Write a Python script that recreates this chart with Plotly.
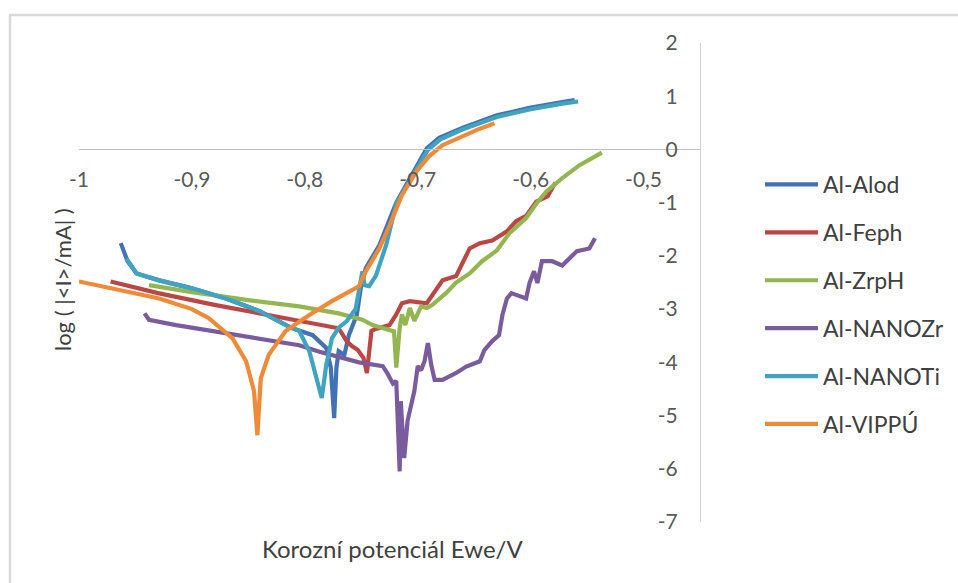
import plotly.graph_objects as go

series_names = ["Al-Alod", "Al-Feph", "Al-ZrpH", "Al-NANOZr", "Al-NANOTi", "Al-VIPPÚ"]
colors = ["#4372B4", "#BB4744", "#93B650", "#7A5C9E", "#40A3BF", "#EE8A38"]

alod_x = [-0.963, -0.957, -0.949, -0.929, -0.900, -0.870, -0.840, -0.817, -0.811, -0.793, -0.781,
          -0.777, -0.774, -0.772, -0.770, -0.765, -0.761, -0.754, -0.750, -0.746, -0.734, -0.719,
          -0.707, -0.699, -0.692, -0.681, -0.660, -0.630, -0.601, -0.572, -0.561]
alod_y = [-1.76, -2.10, -2.33, -2.46, -2.61, -2.80, -3.04, -3.30, -3.36, -3.49, -3.73,
          -4.10, -5.05, -4.10, -3.79, -3.86, -3.49, -3.11, -2.55, -2.23, -1.80, -1.00,
          -0.54, -0.23, 0.02, 0.22, 0.41, 0.64, 0.78, 0.89, 0.93]

feph_x = [-0.972, -0.930, -0.880, -0.830, -0.790, -0.770, -0.763, -0.758, -0.753, -0.748, -0.745,
          -0.741, -0.738, -0.725, -0.719, -0.714, -0.707, -0.692, -0.678, -0.666, -0.660, -0.654,
          -0.645, -0.634, -0.621, -0.613, -0.604, -0.595, -0.585, -0.578]
feph_y = [-2.48, -2.70, -2.92, -3.12, -3.27, -3.36, -3.60, -3.70, -3.77, -3.92, -4.20,
          -3.41, -3.38, -3.30, -3.10, -2.89, -2.85, -2.89, -2.46, -2.38, -2.12, -1.86,
          -1.76, -1.71, -1.54, -1.35, -1.25, -0.98, -0.88, -0.62]

zrph_x = [-0.938, -0.900, -0.850, -0.805, -0.770, -0.762, -0.749, -0.740, -0.725, -0.721, -0.719,
          -0.716, -0.714, -0.711, -0.707, -0.703, -0.697, -0.692, -0.687, -0.675, -0.666, -0.654,
          -0.643, -0.630, -0.619, -0.604, -0.595, -0.586, -0.572, -0.557, -0.537]
zrph_y = [-2.55, -2.68, -2.83, -2.95, -3.08, -3.12, -3.20, -3.30, -3.40, -3.42, -4.10,
          -3.36, -3.10, -3.30, -2.98, -3.22, -2.95, -2.98, -2.92, -2.70, -2.50, -2.33,
          -2.10, -1.90, -1.58, -1.29, -1.02, -0.79, -0.54, -0.30, -0.06]

nanozr_x = [-0.942, -0.938, -0.914, -0.870, -0.825, -0.805, -0.787, -0.767, -0.752, -0.731, -0.727,
            -0.722, -0.719, -0.716, -0.715, -0.712, -0.709, -0.703, -0.700, -0.697, -0.694, -0.691,
            -0.688, -0.685, -0.678, -0.666, -0.657, -0.645, -0.641, -0.634, -0.628, -0.625, -0.621,
            -0.617, -0.611, -0.604, -0.601, -0.597, -0.594, -0.590, -0.581, -0.572, -0.559, -0.548,
            -0.543]
nanozr_y = [-3.08, -3.20, -3.30, -3.45, -3.60, -3.68, -3.80, -3.92, -4.00, -4.07, -4.20,
            -4.40, -4.35, -6.05, -4.73, -5.80, -5.10, -4.54, -4.07, -4.15, -3.98, -3.64,
            -4.05, -4.33, -4.33, -4.20, -4.08, -3.98, -3.77, -3.60, -3.49, -3.11, -2.80,
            -2.70, -2.74, -2.80, -2.51, -2.29, -2.51, -2.10, -2.10, -2.18, -1.91, -1.86,
            -1.67]

nanoti_x = [-0.958, -0.949, -0.929, -0.900, -0.870, -0.840, -0.817, -0.805, -0.796, -0.790, -0.785,
            -0.781, -0.776, -0.770, -0.763, -0.755, -0.749, -0.747, -0.743, -0.737, -0.728, -0.719,
            -0.707, -0.699, -0.691, -0.680, -0.660, -0.630, -0.601, -0.572, -0.558]
nanoti_y = [-2.05, -2.33, -2.46, -2.61, -2.80, -3.04, -3.30, -3.41, -3.79, -4.24, -4.67,
            -4.05, -3.55, -3.35, -3.23, -3.00, -2.29, -2.55, -2.57, -2.37, -1.80, -1.02,
            -0.58, -0.27, -0.01, 0.19, 0.38, 0.61, 0.75, 0.86, 0.90]

vippu_x = [-1.000, -0.960, -0.929, -0.900, -0.885, -0.864, -0.852, -0.845, -0.842, -0.839, -0.832,
           -0.817, -0.796, -0.776, -0.758, -0.752, -0.746, -0.734, -0.725, -0.714, -0.701, -0.690,
           -0.678, -0.660, -0.645, -0.632]
vippu_y = [-2.48, -2.65, -2.80, -3.00, -3.17, -3.55, -3.98, -4.54, -5.37, -4.30, -3.86,
           -3.41, -3.11, -2.85, -2.65, -2.57, -2.29, -1.86, -1.43, -0.86, -0.41, -0.13,
           0.08, 0.26, 0.39, 0.49]

xs = [alod_x, feph_x, zrph_x, nanozr_x, nanoti_x, vippu_x]
ys = [alod_y, feph_y, zrph_y, nanozr_y, nanoti_y, vippu_y]

x_tickvals = [-1.0, -0.9, -0.8, -0.7, -0.6, -0.5]
x_ticktext = ["-1", "-0,9", "-0,8", "-0,7", "-0,6", "-0,5"]
y_tickvals = [2, 1, 0, -1, -2, -3, -4, -5, -6, -7]
y_ticktext = ["2", "1", "0", "-1", "-2", "-3", "-4", "-5", "-6", "-7"]

FONT = "Lato, Carlito, Calibri, sans-serif"

fig = go.Figure()
for name, c, x, y in zip(series_names, colors, xs, ys):
    fig.add_trace(go.Scatter(x=x, y=y, mode="lines", name=name, legendgroup=name,
                             line=dict(color=c, width=4.2, shape="linear")))

W, H = 958, 583
L, R, T, B = 79, 0, 43, 61
PLOT_RIGHT = 700
pw = W - L - R
ph = H - T - B
xdom_end = (PLOT_RIGHT - L) / pw

def px_x(p):
    return (p - L) / pw

def px_y(p):
    return (H - B - p) / ph

fig.update_layout(
    width=W, height=H,
    margin=dict(l=L, r=R, t=T, b=B, pad=0),
    paper_bgcolor="white", plot_bgcolor="white",
    font=dict(family=FONT, size=21, color="#595959"),
    showlegend=True,
    legend=dict(x=px_x(760), y=px_y(163), xanchor="left", yanchor="top",
                font=dict(family=FONT, size=23, color="#404040"),
                tracegroupgap=15, itemwidth=53, bgcolor="rgba(0,0,0,0)"),
    xaxis=dict(domain=[0, xdom_end], range=[-1.0, -0.45], tickvals=x_tickvals, ticktext=x_ticktext,
               showgrid=False, zeroline=False, showline=True, linecolor="#BFBFBF", linewidth=1.3,
               ticks="", anchor="free", position=7/9, ticklabelstandoff=11, automargin=False,
               tickfont=dict(family=FONT, size=21, color="#595959")),
    yaxis=dict(range=[-7, 2], tickvals=y_tickvals, ticktext=y_ticktext,
               side="left", anchor="free", position=xdom_end, ticklabelstandoff=18, automargin=False,
               showgrid=False, zeroline=False, showline=True, linecolor="#D0D0D0", linewidth=1.3,
               ticks="", tickfont=dict(family=FONT, size=21, color="#595959")),
    annotations=[
        dict(text="Korozní potenciál Ewe/V", xref="paper", yref="paper",
             x=px_x(393), y=px_y(548), showarrow=False, xanchor="center", yanchor="middle",
             font=dict(family=FONT, size=24, color="#404040")),
        dict(text="log ( |&lt;I&gt;/mA| )", xref="paper", yref="paper",
             x=px_x(62), y=px_y(280), showarrow=False, textangle=-90,
             xanchor="center", yanchor="middle",
             font=dict(family=FONT, size=22, color="#404040")),
    ],
    shapes=[
        dict(type="line", xref="paper", yref="paper", x0=px_x(10), x1=px_x(10),
             y0=px_y(15), y1=px_y(590), line=dict(color="#D9D9D9", width=2.5)),
        dict(type="line", xref="paper", yref="paper", x0=px_x(9), x1=px_x(965),
             y0=px_y(15), y1=px_y(15), line=dict(color="#D9D9D9", width=2.5)),
    ],
)

fig.write_html("out.html", config={"displayModeBar": False},
               post_script="document.body.style.margin='0';document.body.style.overflow='hidden';")
